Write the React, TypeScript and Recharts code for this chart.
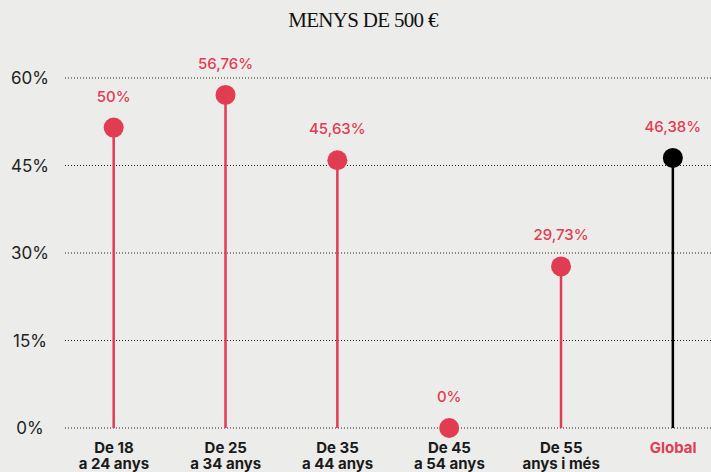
import { BarChart, Bar, XAxis, YAxis, CartesianGrid } from 'recharts';

const groups = ['De 18 a 24 anys', 'De 25 a 34 anys', 'De 35 a 44 anys', 'De 45 a 54 anys', 'De 55 anys i més', 'Global'];
const tickLines = [
  ['De 18', 'a 24 anys'],
  ['De 25', 'a 34 anys'],
  ['De 35', 'a 44 anys'],
  ['De 45', 'a 54 anys'],
  ['De 55', 'anys i més'],
  ['Global'],
];
// values
const shares = [51.5, 57.1, 45.9, 0, 27.7, 46.3];
const valueLabels = ['50%', '56,76%', '45,63%', '0%', '29,73%', '46,38%'];
const yTicks = [0, 15, 30, 45, 60];

const RED = '#e23c52';
const BG = '#ecedea';

const data = groups.map((g, i) => ({
  name: g,
  value: shares[i],
  label: valueLabels[i],
  global: g === 'Global',
}));

const Lollipop = (props: any) => {
  const { x, y, width, height, payload } = props;
  const cx = x + width / 2;
  const color = payload.global ? '#000' : RED;
  return (
    <g>
      <line x1={cx} x2={cx} y1={y} y2={y + height} stroke={color} strokeWidth={2.5} />
      <circle cx={cx} cy={y} r={10} fill={color} />
      <text
        x={cx}
        y={y - 26}
        textAnchor="middle"
        fill={RED}
        fontFamily="Inter"
        fontWeight={500}
        fontSize={15}
      >
        {payload.label}
      </text>
    </g>
  );
};

const XTick = (props: any) => {
  const { x, y, index } = props;
  const lines = tickLines[index] || [];
  const isGlobal = lines.length === 1;
  return (
    <text
      x={x}
      y={y}
      textAnchor="middle"
      fill={isGlobal ? RED : '#1a1a1a'}
      fontFamily="Inter"
      fontWeight={700}
      fontSize={15}
    >
      {lines.map((l, i) => (
        <tspan key={i} x={x} dy={i === 0 ? 25 : 16}>
          {l}
        </tspan>
      ))}
    </text>
  );
};

const YTick = (props: any) => {
  const { y, payload } = props;
  return (
    <text x={30} y={y} dy={6} textAnchor="middle" fill="#222" fontFamily="Inter" fontSize={17}>
      {`${payload.value}%`}
    </text>
  );
};

export default function App() {
  return (
    <div style={{ position: 'fixed', left: 0, top: 0, width: 711, height: 472, overflow: 'hidden', background: BG }}>
      <svg width={711} height={40} style={{ position: 'absolute', left: 0, top: 0 }}>
        <text
          x={363}
          y={27}
          textAnchor="middle"
          fill="#111"
          fontFamily="'Liberation Serif', serif"
          fontSize={21}
          letterSpacing={-0.7}
        >
          MENYS DE 500 €
        </text>
      </svg>
      <BarChart width={711} height={472} data={data} margin={{ top: 78, right: 0, bottom: 0, left: 0 }}>
        <CartesianGrid vertical={false} stroke="#222" strokeDasharray="1 2" />
        <XAxis
          dataKey="name"
          height={44}
          axisLine={false}
          tickLine={false}
          tickSize={0}
          tickMargin={0}
          interval={0}
          padding={{ left: -7, right: -18 }}
          tick={<XTick />}
        />
        <YAxis
          width={65}
          domain={[0, 60]}
          ticks={yTicks}
          axisLine={false}
          tickLine={false}
          tick={<YTick />}
        />
        <Bar dataKey="value" shape={<Lollipop />} isAnimationActive={false} />
      </BarChart>
    </div>
  );
}
